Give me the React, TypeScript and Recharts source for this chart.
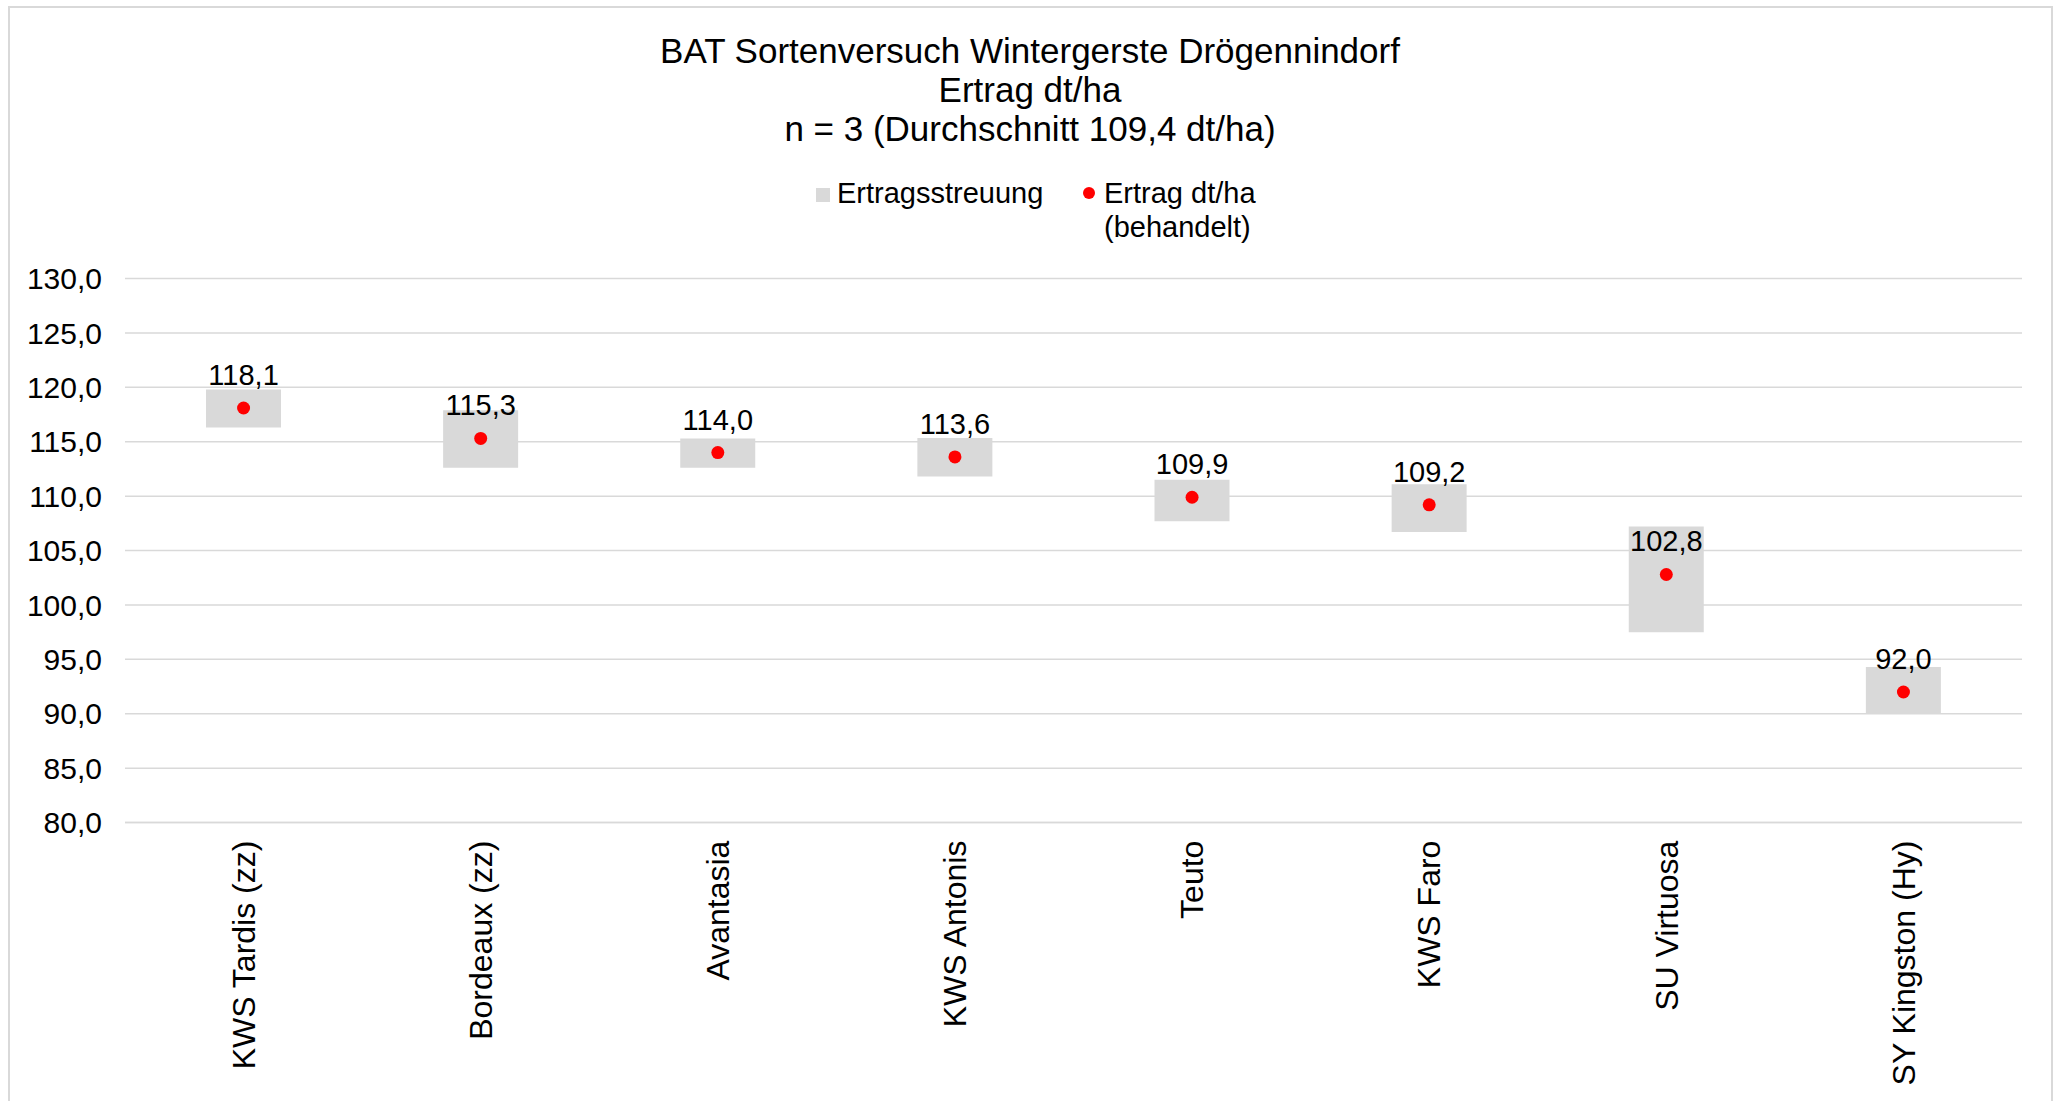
import React from 'react';
import {
  ComposedChart, Bar, Line, XAxis, YAxis, CartesianGrid, LabelList,
} from 'recharts';

const sorten = [
  'KWS Tardis (zz)', 'Bordeaux (zz)', 'Avantasia', 'KWS Antonis',
  'Teuto', 'KWS Faro', 'SU Virtuosa', 'SY Kingston (Hy)',
];
const streuungMin = [116.3, 112.6, 112.6, 111.8, 107.7, 106.7, 97.5, 90.0];
const streuungMax = [119.8, 117.9, 115.3, 115.35, 111.5, 111.1, 107.2, 94.3];
const ertrag = [118.1, 115.3, 114.0, 113.6, 109.9, 109.2, 102.8, 92.0];
const yTicks = [80, 85, 90, 95, 100, 105, 110, 115, 120, 125, 130];

const data = sorten.map((name, i) => ({
  name,
  streuung: [streuungMin[i], streuungMax[i]],
  ertrag: ertrag[i],
}));

const FONT = '"Liberation Sans", Arial, sans-serif';
const fmt = (v: number) => v.toFixed(1).replace('.', ',');

function CategoryTick(props: any) {
  const { x, y, payload } = props;
  const ty = y + 10;
  return (
    <text
      x={x}
      y={ty}
      transform={`rotate(-90, ${x}, ${ty})`}
      textAnchor="end"
      dy="0.35em"
      fontSize={32}
      fontFamily={FONT}
      fill="#000"
    >
      {payload.value}
    </text>
  );
}

export default function App() {
  return (
    <div style={{ position: 'absolute', left: 0, top: 0, width: 2060, height: 1101, background: '#fff', fontFamily: FONT, overflow: 'hidden' }}>
      <div style={{ position: 'absolute', left: 8, top: 6, width: 2045, height: 1120, border: '2px solid #d9d9d9', boxSizing: 'border-box' }} />
      <div style={{ position: 'absolute', left: 0, top: 31, width: 2060, textAlign: 'center', fontSize: 35, lineHeight: '39px', color: '#000' }}>
        <div>BAT Sortenversuch Wintergerste Drögennindorf</div>
        <div>Ertrag dt/ha</div>
        <div>n = 3 (Durchschnitt 109,4 dt/ha)</div>
      </div>
      <div style={{ position: 'absolute', left: 816, top: 188, width: 14, height: 14, background: '#d9d9d9' }} />
      <div style={{ position: 'absolute', left: 837, top: 176, fontSize: 29, lineHeight: '34px' }}>Ertragsstreuung</div>
      <div style={{ position: 'absolute', left: 1083, top: 187, width: 12, height: 12, borderRadius: 6, background: '#ff0000' }} />
      <div style={{ position: 'absolute', left: 1104, top: 176, fontSize: 29, lineHeight: '34px' }}>
        <div>Ertrag dt/ha</div>
        <div>(behandelt)</div>
      </div>
      <div style={{ position: 'absolute', left: 0, top: 0 }}>
        <ComposedChart
          width={2060}
          height={1101}
          data={data}
          margin={{ top: 278.5, right: 38, left: 0, bottom: 8.4 }}
        >
          <CartesianGrid vertical={false} stroke="#d9d9d9" strokeWidth={1.5} />
          <XAxis
            dataKey="name"
            interval={0}
            height={270}
            axisLine={{ stroke: '#d9d9d9', strokeWidth: 1.5 }}
            tickLine={false}
            tick={<CategoryTick />}
          />
          <YAxis
            width={125}
            domain={[80, 130]}
            ticks={yTicks}
            interval={0}
            axisLine={false}
            tickLine={false}
            tickMargin={17}
            tickFormatter={fmt}
            tick={{ fontSize: 30, fill: '#000', fontFamily: FONT }}
          />
          <Bar dataKey="streuung" fill="#d9d9d9" barSize={75} isAnimationActive={false} />
          <Line
            dataKey="ertrag"
            stroke="none"
            dot={{ r: 6.5, fill: '#ff0000', stroke: 'none' }}
            activeDot={false}
            isAnimationActive={false}
          >
            <LabelList
              dataKey="ertrag"
              position="top"
              offset={23}
              formatter={(v: any) => fmt(Number(v))}
              style={{ fontSize: 29, fill: '#000', fontFamily: FONT }}
            />
          </Line>
        </ComposedChart>
      </div>
    </div>
  );
}
